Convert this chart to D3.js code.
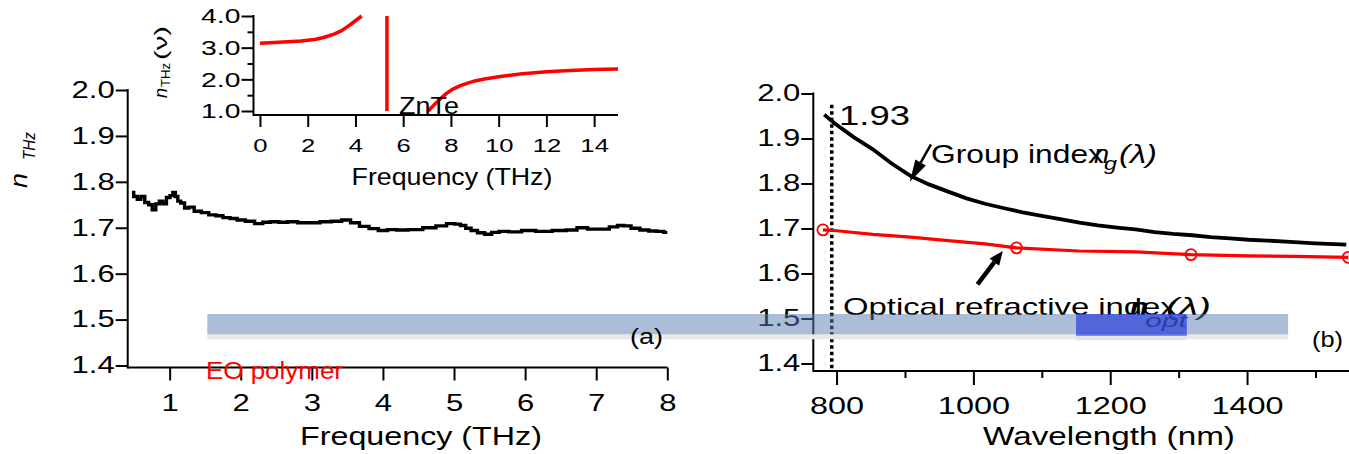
<!DOCTYPE html>
<html>
<head>
<meta charset="utf-8">
<script src="https://cdn.jsdelivr.net/npm/d3@7"></script>
<style>
  body { margin: 0; background: #fff; }
  svg { display: block; font-family: "Liberation Sans", Arial, sans-serif; }
</style>
</head>
<body>
<svg id="chart" width="1349" height="454"></svg>
<script>
// ---- data ----
// (a) EO polymer, THz index vs frequency
const leftFreq = [0.47, 0.52, 0.57, 0.62, 0.68, 0.73, 0.78, 0.83, 0.88, 0.93, 0.98, 1.03, 1.06, 1.1, 1.13,
  1.18, 1.24, 1.3, 1.39, 1.5, 1.6, 1.7, 1.8, 1.9, 2.0, 2.13, 2.26, 2.36, 2.47, 2.6, 2.72, 2.88, 3.03, 3.2,
  3.35, 3.49, 3.6, 3.74, 3.87, 4.0, 4.13, 4.26, 4.45, 4.67, 4.82, 4.97, 5.05, 5.13, 5.2, 5.28, 5.38, 5.48,
  5.58, 5.69, 5.85, 6.05, 6.25, 6.51, 6.65, 6.81, 6.95, 7.12, 7.25, 7.35, 7.43, 7.55, 7.68, 7.8, 7.9, 8.0];
const leftN = [1.777, 1.768, 1.762, 1.768, 1.755, 1.75, 1.739, 1.752, 1.758, 1.752, 1.766, 1.770, 1.777, 1.768, 1.758,
  1.754, 1.743, 1.745, 1.736, 1.733, 1.728, 1.726, 1.722, 1.72, 1.717, 1.714, 1.709, 1.712, 1.713, 1.712, 1.713, 1.711, 1.711, 1.713,
  1.714, 1.717, 1.711, 1.703, 1.698, 1.694, 1.696, 1.695, 1.696, 1.700, 1.704, 1.709, 1.708, 1.705, 1.699, 1.694, 1.689, 1.686,
  1.690, 1.692, 1.691, 1.694, 1.692, 1.694, 1.695, 1.700, 1.697, 1.697, 1.702, 1.705, 1.704, 1.699, 1.695, 1.693, 1.692, 1.690];

// inset: ZnTe THz index (two branches around the phonon pole)
const znteLowF = [0, 0.8, 1.7, 2.3, 2.7, 3.1, 3.4, 3.7, 4.0, 4.26];
const znteLowN = [3.14, 3.17, 3.21, 3.26, 3.33, 3.43, 3.53, 3.68, 3.85, 4.0];
const znteHighF = [7.05, 7.3, 7.55, 7.8, 8.1, 8.4, 8.7, 9.0, 9.4, 10.0, 10.5, 11.0, 11.5, 12.0, 13.0, 14.0, 15.0];
const znteHighN = [1.0, 1.2, 1.38, 1.55, 1.7, 1.8, 1.88, 1.95, 2.01, 2.08, 2.13, 2.18, 2.21, 2.24, 2.28, 2.31, 2.33];
const znteAsymF = [5.32, 5.32];
const znteAsymN = [4.0, 1.0];

// (b) group index and optical refractive index vs wavelength
const groupNm = [782, 797, 825, 853, 880, 908, 935, 963, 990, 1017, 1045, 1072, 1100, 1127, 1155, 1182,
  1210, 1237, 1265, 1292, 1320, 1347, 1375, 1402, 1430, 1457, 1500, 1545];
const groupN = [1.953, 1.934, 1.903, 1.876, 1.845, 1.817, 1.798, 1.782, 1.767, 1.755, 1.745, 1.736, 1.728, 1.721, 1.713, 1.707,
  1.702, 1.698, 1.692, 1.688, 1.685, 1.681, 1.678, 1.675, 1.673, 1.671, 1.667, 1.664];
const optNm = [780, 800, 853, 908, 963, 1017, 1063, 1154, 1237, 1318, 1402, 1470, 1548];
const optN = [1.697, 1.695, 1.687, 1.681, 1.673, 1.666, 1.657, 1.650, 1.648, 1.642, 1.639, 1.638, 1.636];
const markNm = [780, 1063, 1318, 1548];
const markN = [1.697, 1.657, 1.642, 1.636];
const pumpNm = 793;

const leftXTicks = [1, 2, 3, 4, 5, 6, 7, 8];
const yTicks = [1.4, 1.5, 1.6, 1.7, 1.8, 1.9, 2.0];
const rightXTicks = [800, 1000, 1200, 1400];
const rightXMinor = [900, 1100, 1300, 1500];
const insetXTicks = [0, 2, 4, 6, 8, 10, 12, 14];
const insetYTicks = [1, 2, 3, 4];
const insetYMinor = [1.5, 2.5, 3.5];

const RED = '#ff0000';
const TICK_STRETCH = 1.35;

const svg = d3.select('#chart');

// ---- scales ----
const xL = d3.scaleLinear().domain([0.41, 8]).range([127.7, 667.3]);
const yL = d3.scaleLinear().domain([1.4, 2.0]).range([365.5, 90]);
const xR = d3.scaleLinear().domain([766, 1549]).range([813.3, 1349]);
const yR = d3.scaleLinear().domain([1.4, 2.0]).range([363.5, 93.5]);
const xI = d3.scaleLinear().domain([-0.2, 15]).range([255.2, 618]);
const yI = d3.scaleLinear().domain([1, 4]).range([111, 16]);

// text squeezed/stretched horizontally to the width seen in the figure
let stretchText = function(parent, str, x, y, size, width, opts) {
  opts = opts || {};
  let g = parent.append('g')
    .attr('transform', `translate(${x},${y})` + (opts.rotate ? ` rotate(${opts.rotate})` : ''));
  let t = g.append('text')
    .attr('font-size', size)
    .attr('text-anchor', opts.anchor || 'start')
    .attr('fill', opts.fill || '#000')
    .attr('font-style', opts.italic ? 'italic' : null)
    .attr('font-weight', opts.bold ? 'bold' : null)
    .text(str);
  let len = t.node().getComputedTextLength();
  t.attr('transform', `scale(${width / len},1)`);
  return t;
};

let drawAxis = function(g, axis, fontSize) {
  g.call(axis);
  g.select('.domain').remove();
  g.attr('font-size', fontSize).attr('font-family', null);
  g.selectAll('.tick line').attr('stroke-width', 2);
  g.selectAll('.tick text').each(function() {
    let t = d3.select(this);
    let x0 = +t.attr('x') || 0;
    t.attr('x', 0).attr('transform', `translate(${x0},0) scale(${TICK_STRETCH},1)`);
  });
};

let axisLine = function(x1, y1, x2, y2) {
  svg.append('line').attr('x1', x1).attr('y1', y1).attr('x2', x2).attr('y2', y2)
    .attr('stroke', '#000').attr('stroke-width', 2);
};

// ---- panel (a) ----
const leftAxisY = 367.5;
axisLine(xL.range()[0], 89, xL.range()[0], leftAxisY + 1);
axisLine(xL.range()[0], leftAxisY, xL.range()[1], leftAxisY);
drawAxis(svg.append('g').attr('transform', `translate(${xL.range()[0]},0)`),
  d3.axisLeft(yL).tickValues(yTicks).tickSize(12).tickPadding(1).tickFormat(d3.format('.1f')), 23);
drawAxis(svg.append('g').attr('transform', `translate(0,${leftAxisY})`),
  d3.axisBottom(xL).tickValues(leftXTicks).tickSize(13).tickPadding(14).tickFormat(d3.format('d')), 23);

stretchText(svg, 'Frequency (THz)', 421, 445, 26, 242, {anchor: 'middle'});
stretchText(svg, 'n', 27, 188, 24, 15, {rotate: -90, italic: true});
stretchText(svg, 'THz', 35, 160, 17, 28, {rotate: -90, italic: true});

// measured trace is digitised in small steps
let lineL = d3.line().x(d => xL(d[0])).y(d => yL(d[1])).curve(d3.curveStep);
svg.append('path').datum(d3.zip(leftFreq, leftN))
  .attr('d', lineL).attr('fill', 'none').attr('stroke', '#000')
  .attr('stroke-width', 3.4);

// ---- inset (ZnTe) ----
const insetAxisX = 253.5, insetAxisY = 115;
axisLine(insetAxisX, 15, insetAxisX, insetAxisY + 1);
axisLine(insetAxisX, insetAxisY, xI.range()[1], insetAxisY);
drawAxis(svg.append('g').attr('transform', `translate(${insetAxisX},0)`),
  d3.axisLeft(yI).tickValues(insetYTicks).tickSize(12).tickPadding(1).tickFormat(d3.format('.1f')), 21);
drawAxis(svg.append('g').attr('transform', `translate(${insetAxisX},0)`),
  d3.axisLeft(yI).tickValues(insetYMinor).tickSize(6).tickFormat(''), 21);
drawAxis(svg.append('g').attr('transform', `translate(0,${insetAxisY})`),
  d3.axisBottom(xI).tickValues(insetXTicks).tickSize(12).tickPadding(12).tickFormat(d3.format('d')), 19);

stretchText(svg, 'Frequency (THz)', 452, 185, 23, 201, {anchor: 'middle'});
stretchText(svg, 'n', 167, 98, 18, 10, {rotate: -90, italic: true});
stretchText(svg, 'THz', 170, 87, 13, 24, {rotate: -90});
stretchText(svg, '(ν)', 167, 60, 18, 34, {rotate: -90});

let lineI = d3.line().x(d => xI(d[0])).y(d => yI(d[1]));
[[znteLowF, znteLowN], [znteAsymF, znteAsymN], [znteHighF, znteHighN]].forEach(function(s) {
  svg.append('path').datum(d3.zip(s[0], s[1]))
    .attr('d', lineI).attr('fill', 'none').attr('stroke', RED).attr('stroke-width', 3.5);
});
stretchText(svg, 'ZnTe', 399, 114, 24, 60);

// ---- panel (b) ----
const rightAxisY = 371;
axisLine(xR.range()[0], 92.5, xR.range()[0], rightAxisY + 1);
axisLine(xR.range()[0], rightAxisY, xR.range()[1], rightAxisY);
drawAxis(svg.append('g').attr('transform', `translate(${xR.range()[0]},0)`),
  d3.axisLeft(yR).tickValues(yTicks).tickSize(12).tickPadding(1).tickFormat(d3.format('.1f')), 23);
drawAxis(svg.append('g').attr('transform', `translate(0,${rightAxisY})`),
  d3.axisBottom(xR).tickValues(rightXTicks).tickSize(14).tickPadding(12).tickFormat(d3.format('d')), 24);
drawAxis(svg.append('g').attr('transform', `translate(0,${rightAxisY})`),
  d3.axisBottom(xR).tickValues(rightXMinor).tickSize(7).tickFormat(''), 24);

stretchText(svg, 'Wavelength (nm)', 1109, 445, 25, 252, {anchor: 'middle'});

// pump wavelength marker
svg.append('line')
  .attr('x1', xR(pumpNm)).attr('x2', xR(pumpNm))
  .attr('y1', yR(1.975)).attr('y2', rightAxisY)
  .attr('stroke', '#000').attr('stroke-width', 3.5).attr('stroke-dasharray', '3.5,3');

let lineR = d3.line().x(d => xR(d[0])).y(d => yR(d[1]));
svg.append('path').datum(d3.zip(groupNm, groupN))
  .attr('d', lineR).attr('fill', 'none').attr('stroke', '#000').attr('stroke-width', 3.8);
svg.append('path').datum(d3.zip(optNm, optN))
  .attr('d', lineR).attr('fill', 'none').attr('stroke', RED).attr('stroke-width', 3.2);
svg.selectAll('circle.mark').data(d3.zip(markNm, markN)).join('circle')
  .attr('class', 'mark')
  .attr('cx', d => xR(d[0])).attr('cy', d => yR(d[1])).attr('r', 5.5)
  .attr('fill', 'none').attr('stroke', RED).attr('stroke-width', 1.8);

stretchText(svg, '1.93', 839, 125, 27, 71);

// arrows
let arrow = function(tail, tip, shaftW, headLen, headHalf) {
  let x1 = xR(tail[0]), y1 = yR(tail[1]), x2 = xR(tip[0]), y2 = yR(tip[1]);
  let dx = x2 - x1, dy = y2 - y1, L = Math.hypot(dx, dy);
  let ux = dx / L, uy = dy / L;
  let bx = x2 - ux * headLen, by = y2 - uy * headLen;
  svg.append('line').attr('x1', x1).attr('y1', y1).attr('x2', bx).attr('y2', by)
    .attr('stroke', '#000').attr('stroke-width', shaftW);
  let p = d3.path();
  p.moveTo(x2, y2);
  p.lineTo(bx - uy * headHalf, by + ux * headHalf);
  p.lineTo(bx + uy * headHalf, by - ux * headHalf);
  p.closePath();
  svg.append('path').attr('d', p.toString()).attr('fill', '#000');
};
arrow([938, 1.887], [907, 1.804], 2.5, 22, 6);
arrow([1006, 1.576], [1043, 1.650], 4.5, 14, 6);

stretchText(svg, 'Group index', 931, 163, 25, 173);
stretchText(svg, 'n', 1094, 163, 25, 15, {italic: true});
stretchText(svg, 'g', 1104, 170, 18, 13, {italic: true});
stretchText(svg, '(λ)', 1119, 163, 25, 38, {italic: true});

stretchText(svg, 'Optical refractive index', 843, 315, 23, 334);
stretchText(svg, 'n', 1130, 315, 24, 18, {italic: true, bold: true});
stretchText(svg, 'opt', 1145, 327, 18, 42, {italic: true});
stretchText(svg, '(λ)', 1166, 315, 24, 45, {italic: true});

stretchText(svg, 'EO polymer', 206, 379, 24, 137, {fill: RED});

// ---- translucent highlight bands across both panels ----
const bandX0 = xL(1.53), bandX1 = xR(1460);
const bandY0 = yR(1.51), bandY1 = yR(1.465);
svg.append('rect').attr('x', bandX0).attr('y', bandY1)
  .attr('width', bandX1 - bandX0).attr('height', 5).attr('fill', '#e8e8e8');
svg.append('rect').attr('x', bandX0).attr('y', bandY0)
  .attr('width', bandX1 - bandX0).attr('height', bandY1 - bandY0)
  .attr('fill', 'rgb(90,125,175)').attr('fill-opacity', 0.5);
const darkX0 = xR(1150), darkX1 = xR(1312);
svg.append('rect').attr('x', darkX0).attr('y', bandY1)
  .attr('width', darkX1 - darkX0).attr('height', 6).attr('fill', '#e4e4e4');
svg.append('rect').attr('x', darkX0).attr('y', bandY0)
  .attr('width', darkX1 - darkX0).attr('height', bandY1 - bandY0 + 1.5)
  .attr('fill', 'rgb(40,60,220)').attr('fill-opacity', 0.68);

stretchText(svg, '(a)', 646.5, 344, 22, 33, {anchor: 'middle'});
stretchText(svg, '(b)', 1327.5, 347, 22, 31, {anchor: 'middle'});
</script>
</body>
</html>
